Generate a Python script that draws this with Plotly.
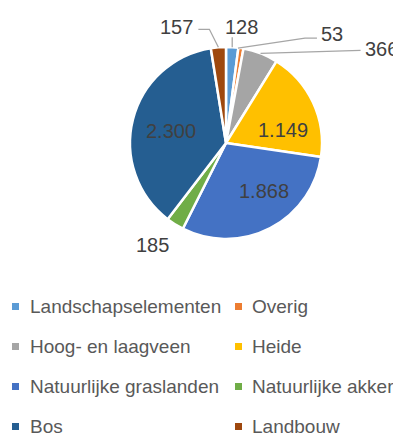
import math
import plotly.graph_objects as go

categories = ["Landschapselementen", "Overig", "Hoog- en laagveen", "Heide",
              "Natuurlijke graslanden", "Natuurlijke akker", "Bos", "Landbouw"]
values = [128, 53, 366, 1149, 1868, 185, 2300, 157]
colors = ["#5B9BD5", "#ED7D31", "#A5A5A5", "#FFC000",
          "#4472C4", "#70AD47", "#255E91", "#9E480E"]

# page has an 8px body margin; figure fills the rest of the 401x437 window
OFF = 8
W, H = 401 - OFF, 437 - OFF
CX, CY, R = 226, 143, 96
FONT = "Liberation Sans"

def px(x):
    return (x - OFF) / W

def py(y):
    return 1 - (y - OFF) / H

fig = go.Figure(go.Pie(
    labels=categories, values=values, sort=False, direction="clockwise", rotation=0,
    marker=dict(colors=colors, line=dict(color="white", width=2.5)),
    textinfo="none",
    showlegend=False, hoverinfo="label+value",
    domain=dict(x=[px(CX - R), px(CX + R)], y=[py(CY + R), py(CY - R)]),
))

# data labels: (radius fraction, label nudge dx,dy, leader line points) relative to
# the point at the slice's mid-angle derived from the data
label_style = {
    0: (1.0, (9, -20), [(0, 0), (0, -10)]),
    1: (1.0, (91, -14), [(-3, 0), (64, -10), (76, -10)]),
    2: (1.0, (121, -4), [(0, 0), (100, -3)]),
    3: (0.6, (5, 11), []),
    4: (0.6, (11, -3), []),
    5: (1.0, (-22, 21), []),
    6: (0.6, (1, 2), []),
    7: (1.0, (-42, -20), [(0, 0), (-9, -18), (-20, -18)]),
}

total = sum(values)
cum = 0
annotations = []
shapes = []
for i, v in enumerate(values):
    mid = (cum + v / 2) / total
    cum += v
    frac, (ldx, ldy), pts = label_style[i]
    th = 2 * math.pi * mid
    ex = CX + frac * R * math.sin(th)
    ey = CY - frac * R * math.cos(th)
    annotations.append(dict(
        x=px(ex + ldx), y=py(ey + ldy), xref="paper", yref="paper",
        text=f"{v:,}".replace(",", "."), showarrow=False,
        xanchor="center", yanchor="middle",
        font=dict(family=FONT, size=20, color="#404040")))
    if pts:
        path = " ".join(("M" if k == 0 else "L") + f" {px(ex + dx):.5f},{py(ey + dy):.5f}"
                        for k, (dx, dy) in enumerate(pts))
        shapes.append(dict(type="path", path=path, xref="paper", yref="paper",
                           line=dict(color="#A6A6A6", width=1.3)))

# manual legend
for i, name in enumerate(categories):
    row, col = divmod(i, 2)
    yc = 306.5 + 40 * row
    mx = 12 if col == 0 else 235
    tx = 28 if col == 0 else 250
    shapes.append(dict(type="rect", xref="paper", yref="paper",
                       x0=px(mx), x1=px(mx + 7), y0=py(yc + 3.5), y1=py(yc - 3.5),
                       fillcolor=colors[i], line=dict(width=0)))
    annotations.append(dict(
        x=px(tx), y=py(yc), xref="paper", yref="paper", text=name, showarrow=False,
        xanchor="left", yanchor="middle",
        font=dict(family=FONT, size=19, color="#595959")))

fig.update_layout(
    width=W, height=H, margin=dict(l=0, r=0, t=0, b=0),
    paper_bgcolor="white", plot_bgcolor="white",
    separators=",.",
    annotations=annotations, shapes=shapes,
)

fig.write_html("out.html")
